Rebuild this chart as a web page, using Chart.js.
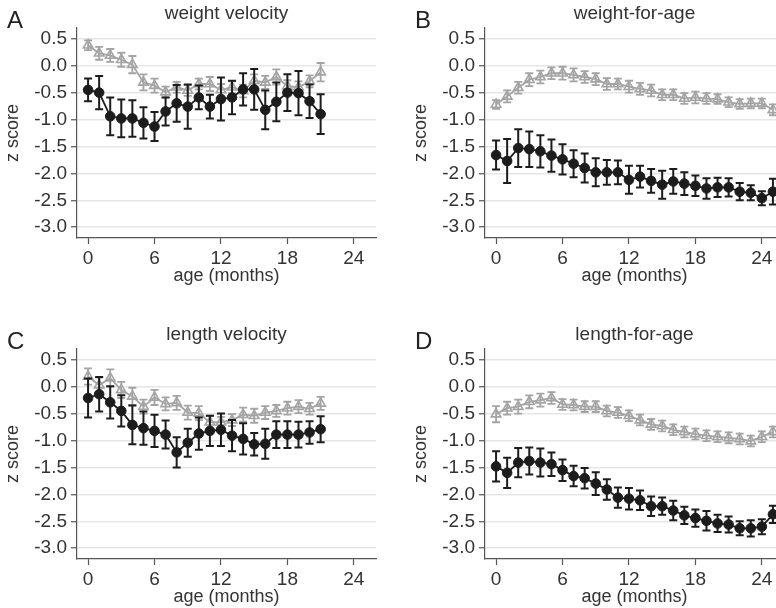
<!DOCTYPE html>
<html>
<head>
<meta charset="utf-8">
<script src="https://cdn.jsdelivr.net/npm/chart.js@4.4.1/dist/chart.umd.min.js"></script>
<style>
  html, body { margin:0; padding:0; background:#fff; width:776px; height:608px; overflow:hidden; position:relative }
  .panel { position:absolute; width:390px; height:290px }
</style>
</head>
<body>
<div class="panel" style="left:0;top:0"><canvas id="chA" width="390" height="290"></canvas></div>
<div class="panel" style="left:408px;top:0"><canvas id="chB" width="390" height="290"></canvas></div>
<div class="panel" style="left:0;top:321px"><canvas id="chC" width="390" height="290"></canvas></div>
<div class="panel" style="left:408px;top:321px"><canvas id="chD" width="390" height="290"></canvas></div>
<script>
// ages (months) on the x axis
const agesShort = [0,1,2,3,4,5,6,7,8,9,10,11,12,13,14,15,16,17,18,19,20,21];
const agesLong  = [0,1,2,3,4,5,6,7,8,9,10,11,12,13,14,15,16,17,18,19,20,21,22,23,24,25];
const xTicks = [0, 6, 12, 18, 24];
const yTicks = [0.5, 0.0, -0.5, -1.0, -1.5, -2.0, -2.5, -3.0];

// A: weight velocity
const wvBlack    = [-0.45,-0.50,-0.94,-0.98,-0.98,-1.06,-1.13,-0.85,-0.70,-0.76,-0.59,-0.76,-0.62,-0.59,-0.44,-0.44,-0.82,-0.67,-0.50,-0.51,-0.66,-0.90];
const wvBlackErr = [0.21,0.31,0.35,0.35,0.34,0.29,0.27,0.26,0.34,0.41,0.22,0.22,0.40,0.31,0.30,0.38,0.36,0.36,0.34,0.41,0.31,0.37];
const wvGray     = [0.38,0.23,0.19,0.11,0.02,-0.31,-0.37,-0.49,-0.40,-0.46,-0.34,-0.34,-0.45,-0.40,-0.47,-0.28,-0.31,-0.21,-0.38,-0.40,-0.29,-0.12];
const wvGrayErr  = [0.09,0.12,0.12,0.13,0.16,0.15,0.13,0.10,0.10,0.10,0.10,0.13,0.11,0.11,0.12,0.12,0.12,0.14,0.11,0.11,0.11,0.17];

// B: weight-for-age
const wfaBlack    = [-1.66,-1.77,-1.53,-1.55,-1.59,-1.67,-1.74,-1.82,-1.90,-1.98,-1.98,-1.98,-2.12,-2.06,-2.14,-2.21,-2.15,-2.19,-2.23,-2.28,-2.26,-2.26,-2.34,-2.36,-2.46,-2.34];
const wfaBlackErr = [0.27,0.41,0.35,0.33,0.30,0.30,0.28,0.25,0.27,0.26,0.23,0.22,0.26,0.20,0.22,0.26,0.23,0.21,0.19,0.19,0.18,0.17,0.16,0.14,0.13,0.24];
const wfaGray     = [-0.72,-0.57,-0.41,-0.26,-0.21,-0.14,-0.14,-0.17,-0.21,-0.25,-0.34,-0.34,-0.39,-0.43,-0.46,-0.54,-0.54,-0.61,-0.59,-0.61,-0.62,-0.68,-0.71,-0.70,-0.70,-0.82];
const wfaGrayErr  = [0.08,0.11,0.11,0.12,0.12,0.11,0.12,0.12,0.11,0.11,0.11,0.10,0.11,0.11,0.11,0.10,0.10,0.10,0.11,0.10,0.09,0.09,0.09,0.09,0.09,0.10];

// C: length velocity
const lvBlack    = [-0.21,-0.14,-0.29,-0.45,-0.71,-0.77,-0.82,-0.89,-1.22,-1.04,-0.87,-0.82,-0.80,-0.91,-0.97,-1.07,-1.06,-0.89,-0.89,-0.89,-0.85,-0.79];
const lvBlackErr = [0.36,0.32,0.30,0.29,0.36,0.31,0.30,0.26,0.28,0.26,0.30,0.28,0.30,0.29,0.29,0.21,0.28,0.25,0.25,0.24,0.21,0.24];
const lvGray     = [0.19,0.03,0.16,-0.06,-0.18,-0.37,-0.20,-0.32,-0.30,-0.48,-0.49,-0.66,-0.66,-0.62,-0.52,-0.54,-0.48,-0.45,-0.40,-0.37,-0.41,-0.31];
const lvGrayErr  = [0.15,0.14,0.16,0.15,0.16,0.13,0.14,0.12,0.13,0.13,0.13,0.12,0.10,0.11,0.13,0.13,0.12,0.11,0.12,0.12,0.11,0.12];

// D: length-for-age
const lfaBlack    = [-1.48,-1.60,-1.41,-1.38,-1.41,-1.44,-1.55,-1.66,-1.70,-1.80,-1.91,-2.06,-2.08,-2.11,-2.22,-2.22,-2.30,-2.39,-2.44,-2.49,-2.54,-2.56,-2.63,-2.63,-2.60,-2.37];
const lfaBlackErr = [0.28,0.28,0.27,0.25,0.26,0.22,0.20,0.19,0.19,0.21,0.19,0.19,0.20,0.18,0.18,0.16,0.18,0.16,0.16,0.18,0.16,0.15,0.13,0.15,0.14,0.16];
const lfaGray     = [-0.51,-0.40,-0.37,-0.28,-0.25,-0.21,-0.33,-0.34,-0.37,-0.37,-0.45,-0.48,-0.54,-0.62,-0.70,-0.73,-0.80,-0.84,-0.88,-0.91,-0.93,-0.95,-0.97,-1.01,-0.93,-0.84];
const lfaGrayErr  = [0.15,0.12,0.13,0.12,0.12,0.11,0.10,0.10,0.10,0.10,0.10,0.10,0.10,0.10,0.10,0.10,0.10,0.10,0.10,0.10,0.10,0.10,0.10,0.10,0.10,0.10];

const FONT = '"Liberation Sans", Arial, Helvetica, sans-serif';
const BLACK = '#1c1c1c';
const GRAY = '#a4a4a4';
const AXIS = '#555';
const TEXT = '#333';

// vertical error bars with caps, drawn just under each dataset
const errorBars = {
  id: 'errorBars',
  beforeDatasetDraw(chart, args) {
    const ds = chart.data.datasets[args.index];
    if (!ds.err) return;
    const ys = chart.scales.y, ctx = chart.ctx, cap = 4;
    ctx.save();
    ctx.strokeStyle = ds.borderColor;
    ctx.lineWidth = ds.errWidth;
    args.meta.data.forEach((pt, i) => {
      const v = ds.data[i].y, e = ds.err[i];
      const top = ys.getPixelForValue(v + e), bot = ys.getPixelForValue(v - e);
      ctx.beginPath();
      ctx.moveTo(pt.x, top); ctx.lineTo(pt.x, bot);
      ctx.moveTo(pt.x - cap, top); ctx.lineTo(pt.x + cap, top);
      ctx.moveTo(pt.x - cap, bot); ctx.lineTo(pt.x + cap, bot);
      ctx.stroke();
    });
    ctx.restore();
  }
};

// panel letter + title centred over the plot area
const panelText = {
  id: 'panelText',
  afterDraw(chart, args, opts) {
    const ctx = chart.ctx, a = chart.chartArea;
    ctx.save();
    ctx.fillStyle = '#222';
    ctx.textBaseline = 'alphabetic';
    ctx.textAlign = 'left';
    ctx.font = '24px ' + FONT;
    ctx.fillText(opts.letter, 7, 28);
    ctx.fillStyle = TEXT;
    ctx.textAlign = 'center';
    ctx.font = '19px ' + FONT;
    ctx.fillText(opts.title, (a.left + a.right) / 2, 19);
    ctx.restore();
  }
};

function pts(ages, vals) { return ages.map((a, i) => ({ x: a, y: vals[i] })); }

function makePanel(id, letter, title, ages, black, blackErr, gray, grayErr) {
  return new Chart(document.getElementById(id), {
    type: 'line',
    data: {
      datasets: [
        { data: pts(ages, black), err: blackErr, errWidth: 2, order: 0,
          borderColor: BLACK, backgroundColor: BLACK, borderWidth: 1.8,
          pointStyle: 'circle', pointRadius: 4.8, pointBackgroundColor: BLACK, pointBorderWidth: 1 },
        { data: pts(ages, gray), err: grayErr, errWidth: 1.8, order: 1,
          borderColor: GRAY, backgroundColor: GRAY, borderWidth: 1.8,
          pointStyle: 'triangle', pointRadius: 5.5, pointBackgroundColor: 'rgba(255,255,255,0)', pointBorderWidth: 1.6 },
      ],
    },
    options: {
      responsive: false,
      animation: false,
      layout: { padding: { top: 28, right: 14, left: 0, bottom: 0 } },
      plugins: { legend: { display: false }, tooltip: { enabled: false }, panelText: { letter, title } },
      scales: {
        x: {
          type: 'linear', min: -1, max: 26,
          afterBuildTicks: s => { s.ticks = xTicks.map(v => ({ value: v })); },
          afterFit: s => { s.height = 52; },
          grid: { drawOnChartArea: false, tickLength: 6, tickColor: AXIS, tickWidth: 1.2 },
          border: { color: AXIS, width: 1.2 },
          ticks: { font: { family: FONT, size: 19 }, color: TEXT, padding: 3 },
          title: { display: true, text: 'age (months)', font: { family: FONT, size: 18 }, color: TEXT, padding: { top: 0, bottom: 3 } },
        },
        y: {
          type: 'linear', min: -3.2, max: 0.7,
          afterBuildTicks: s => { s.ticks = yTicks.map(v => ({ value: v })); },
          afterFit: s => { s.width = 77; },
          grid: { color: '#e6e6e6', lineWidth: 1.5, tickLength: 6, tickColor: AXIS, tickWidth: 1.2 },
          border: { color: AXIS, width: 1.2 },
          ticks: { font: { family: FONT, size: 19 }, color: TEXT, padding: 4, callback: v => v.toFixed(1) },
          title: { display: true, text: 'z score', font: { family: FONT, size: 18 }, color: TEXT, padding: { top: 2, bottom: 0 } },
        },
      },
    },
    plugins: [errorBars, panelText],
  });
}

makePanel('chA', 'A', 'weight velocity', agesShort, wvBlack, wvBlackErr, wvGray, wvGrayErr);
makePanel('chB', 'B', 'weight-for-age', agesLong, wfaBlack, wfaBlackErr, wfaGray, wfaGrayErr);
makePanel('chC', 'C', 'length velocity', agesShort, lvBlack, lvBlackErr, lvGray, lvGrayErr);
makePanel('chD', 'D', 'length-for-age', agesLong, lfaBlack, lfaBlackErr, lfaGray, lfaGrayErr);
</script>
</body>
</html>
